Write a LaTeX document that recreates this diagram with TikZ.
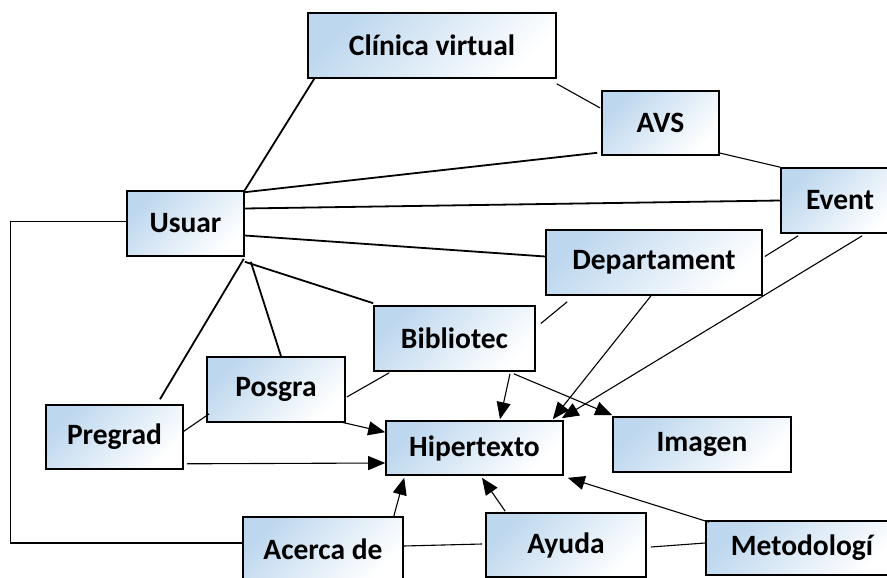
\documentclass[tikz,border=0pt]{standalone}
\usepackage{fontspec}
\setmainfont{Carlito}
\usetikzlibrary{calc}
\usetikzlibrary{arrows.meta}
\definecolor{boxblue}{RGB}{189,215,238}
\tikzset{
	bloque/.style={draw, line width=1.6pt, top color=boxblue, bottom color=white, shading angle=45,
		inner sep=0pt, font=\bfseries\fontsize{29.5}{32}\selectfont},
	grueso/.style={line width=1.8pt},
	fino/.style={line width=1.1pt},
	flecha/.style={line width=1.1pt, -{Triangle[length=17pt,width=14pt]}}
}

\begin{document}
\begin{tikzpicture}[x=1pt,y=-1pt]
			\fill[white] (0,0) rectangle (887,578);
			\clip (0,0) rectangle (887,578);
			\node[bloque, minimum width=248pt, minimum height=65pt] (clinica) at (432,45.5) {Clínica virtual};
			\node[bloque, minimum width=117pt, minimum height=64pt] (avs) at (660.5,123) {AVS};
			\node[bloque, minimum width=118pt, minimum height=65pt] (event) at (840,200.5) {Event};
			\node[bloque, minimum width=216pt, minimum height=65pt] (depto) at (654,262.5) {Departament};
			\node[bloque, minimum width=117pt, minimum height=65pt] (usuar) at (185.5,223.5) {Usuar};
			\node[bloque, minimum width=161pt, minimum height=65pt] (biblio) at (454.5,338.5) {Bibliotec};
			\node[bloque, minimum width=138pt, minimum height=65pt] (posgra) at (276,389.5) {Posgra};
			\node[bloque, minimum width=137pt, minimum height=64pt] (pregrad) at (114.5,437) {Pregrad};
			\node[bloque, minimum width=177pt, minimum height=54pt] (hiper) at (474.5,448) {Hipertexto};
			\node[bloque, minimum width=178pt, minimum height=55pt] (imagen) at (702,444.5) {Imagen};
			\node[bloque, minimum width=160pt, minimum height=64pt] (acerca) at (323,549) {Acerca de};
			\node[bloque, minimum width=160pt, minimum height=64pt] (ayuda) at (566,545) {Ayuda};
			\node[bloque, minimum width=192pt, minimum height=54pt] (metodo) at (802,548) {Metodologí};
			\draw[grueso] (usuar.north east) -- ($(clinica.south west)+(7,0)$);
			\draw[grueso] ($(usuar.north east)+(0,2)$) -- ($(avs.south west)+(-4,-3)$);
			\draw[grueso] ($(usuar.east)+(0,-15)$) -- (event.west);
			\draw[grueso] ($(usuar.east)+(0,12)$) -- ($(depto.west)+(0,-6)$);
			\draw[grueso] ($(usuar.south east)+(0,5)$) -- ($(biblio.north west)+(0,-2)$);
			\draw[grueso] ($(usuar.south east)+(-1,2)$) -- ($(pregrad.north)+(45.5,-5)$);
			\draw[grueso] ($(usuar.south east)+(6,5)$) -- ($(posgra.north)+(5,0)$);
			\draw[fino] ($(usuar.west)+(0,-2)$) -- ++(-116,0) |- ($(acerca.west)+(0,-6)$);
			\draw[fino] ($(clinica.south east)+(0,5)$) -- ($(avs.west)+(-1,-15)$);
			\draw[fino] ($(avs.south east)+(-1,-3)$) -- (event.north west);
			\draw[fino] ($(event.south west)+(18,2)$) -- ($(depto.east)+(2,-6)$);
			\draw[fino] ($(depto.south west)+(22,6)$) -- ($(biblio.east)+(5,-15)$);
			\draw[flecha] ($(event.south west)+(82,2)$) -- ($(hiper.north east)+(-2,-2)$);
			\draw[flecha] ($(depto.south)+(-3,0)$) -- ($(hiper.north east)+(-11,-1)$);
			\draw[flecha] ($(biblio.south)+(55.5,2)$) -- ($(hiper.north)+(25.5,-1)$);
			\draw[flecha] ($(biblio.south east)+(-22,2)$) -- ($(imagen.north west)+(0,-1)$);
			\draw[fino] ($(posgra.east)+(1,7.5)$) -- ($(biblio.south west)+(16,1)$);
			\draw[flecha] ($(posgra.south east)+(-6,-1)$) -- ($(hiper.north west)+(0,12)$);
			\draw[fino] ($(pregrad.east)+(-1,-5)$) -- ($(posgra.south west)+(3,-9)$);
			\draw[flecha] ($(pregrad.south east)+(3,-6)$) -- ($(hiper.west)+(0,15)$);
			\draw[flecha] ($(acerca.north east)+(-10,0)$) -- ($(hiper.south west)+(19,2)$);
			\draw[fino] ($(acerca.east)+(0,-3)$) -- ($(ayuda.west)+(-3,-1)$);
			\draw[flecha] ($(ayuda.north west)+(20,-1)$) -- ($(hiper.south)+(7.5,2)$);
			\draw[fino] ($(ayuda.east)+(4,2)$) -- ($(metodo.west)+(0,-5)$);
			\draw[flecha] ($(metodo.north west)+(4,2)$) -- ($(hiper.south east)+(4,2)$);
		\end{tikzpicture}
\end{document}
